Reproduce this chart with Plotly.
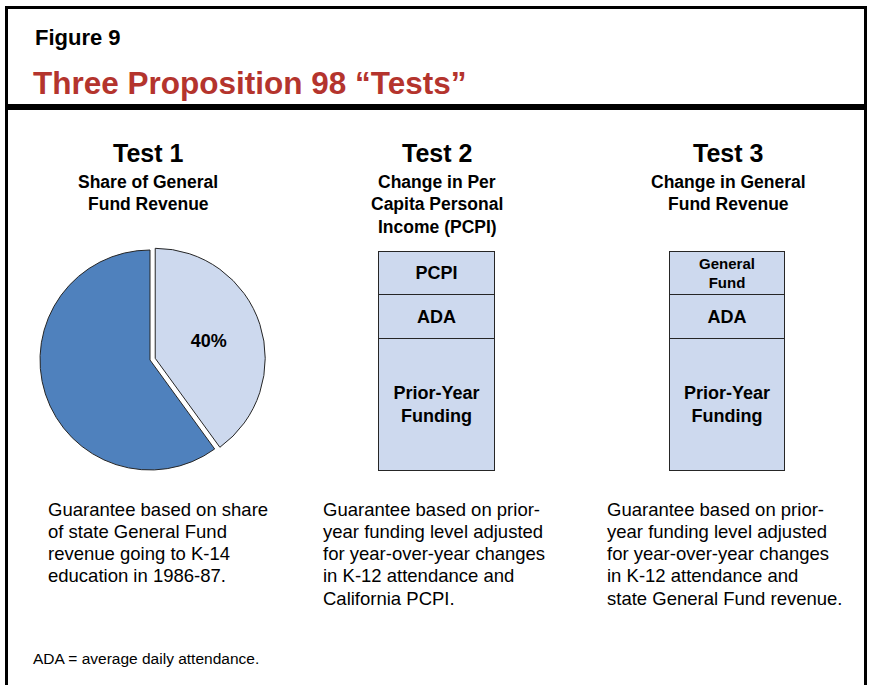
import plotly.graph_objects as go

W, H = 869, 685
FONT = "Liberation Sans, Arial, Helvetica, sans-serif"

# data
share_labels = ["K-14 education", "Rest of General Fund"]
share_values = [40, 60]

tests = ["Test 2", "Test 3"]
prior_year = [3, 3]
ada = [1, 1]
growth = [1, 1]
growth_labels = ["PCPI", "General<br>Fund"]
growth_sizes = [18, 15]

headings = [
    (148, "Test 1", ["Share of General", "Fund Revenue"]),
    (437, "Test 2", ["Change in Per", "Capita Personal", "Income (PCPI)"]),
    (728, "Test 3", ["Change in General", "Fund Revenue"]),
]
notes = [
    (46, ["Guarantee based on share", "of state General Fund",
          "revenue going to K-14", "education in 1986-87."]),
    (321, ["Guarantee based on prior-", "year funding level adjusted",
           "for year-over-year changes", "in K-12 attendance and",
           "California PCPI."]),
    (605, ["Guarantee based on prior-", "year funding level adjusted",
           "for year-over-year changes", "in K-12 attendance and",
           "state General Fund revenue."]),
]

LIGHT = "#cdd9ee"
DARK = "#4f81bd"
EDGE = "#262626"


def px(x):
    return x / W


def py(y):
    return 1 - y / H


fig = go.Figure()

# pie (test 1)
pull = 0.05
r = 110
cx, cy = 150, 360
half = r * (1 + pull)
fig.add_trace(go.Pie(
    labels=share_labels, values=share_values, sort=False,
    direction="clockwise", rotation=0, pull=[pull, 0],
    marker=dict(colors=[LIGHT, DARK], line=dict(color=EDGE, width=1)),
    texttemplate=["%{percent:.0%}", ""], textposition="inside",
    insidetextorientation="horizontal",
    textfont=dict(family=FONT, size=18, color="black", weight="bold"),
    domain=dict(x=[px(cx - half), px(cx + half)], y=[py(cy + half), py(cy - half)]),
    hoverinfo="label+percent",
))

# stacked bars (tests 2 and 3)
for name, vals, txt, sizes in [
    ("Prior-Year Funding", prior_year, ["Prior-Year<br>Funding"] * 2, [18, 18]),
    ("ADA", ada, ["ADA", "ADA"], [18, 18]),
    ("Growth factor", growth, growth_labels, growth_sizes),
]:
    fig.add_trace(go.Bar(
        x=tests, y=vals, name=name, text=txt, width=0.396,
        textposition="inside", insidetextanchor="middle", textangle=0,
        constraintext="none",
        textfont=dict(family=FONT, size=sizes, color="black", weight="bold"),
        marker=dict(color=LIGHT, line=dict(color=EDGE, width=1)),
    ))

annotations = []


def text(x, y, s, size, bold=False, color="black", anchor="center"):
    annotations.append(dict(
        x=px(x), y=py(y), xref="paper", yref="paper", text=s,
        showarrow=False, xanchor=anchor, yanchor="middle",
        font=dict(family=FONT, size=size, color=color,
                  weight="bold" if bold else "normal")))


text(33, 37, "Figure 9", 22, bold=True, anchor="left")
text(31, 83, "Three Proposition 98 \u201cTests\u201d", 31.5, bold=True,
     color="#b4342d", anchor="left")

for x, head, sub in headings:
    text(x, 153, head, 25, bold=True)
    for i, line in enumerate(sub):
        text(x, 182 + 22.3 * i, line, 17.5, bold=True)

for x, lines in notes:
    for i, line in enumerate(lines):
        text(x, 509 + 22.3 * i, line, 18.5, anchor="left")

text(31, 658, "ADA = average daily attendance.", 15.5, anchor="left")

shapes = [
    dict(type="rect", xref="paper", yref="paper",
         x0=px(6.5), x1=px(865.5), y0=py(700), y1=py(7.5),
         line=dict(color="black", width=3)),
    dict(type="rect", xref="paper", yref="paper",
         x0=px(6.5), x1=px(865.5), y0=py(110), y1=py(104),
         fillcolor="black", line=dict(width=0)),
]

# scale so that the bars land under their headings
scale = 290.5
ypx = 219 / 5
fig.update_layout(
    width=W, height=H, margin=dict(l=0, r=0, t=0, b=0),
    paper_bgcolor="white", plot_bgcolor="white",
    barmode="stack", showlegend=False,
    xaxis=dict(type="category", range=[-436.5 / scale, (W - 436.5) / scale],
               visible=False, domain=[0, 1]),
    yaxis=dict(range=[-(H - 470) / ypx, 470 / ypx], visible=False,
               domain=[0, 1]),
    annotations=annotations, shapes=shapes,
)

# drop the page's default body margin so the figure sits at the corner
fig.write_html("out.html", config={"displayModeBar": False},
               post_script="document.body.style.margin='0';")
